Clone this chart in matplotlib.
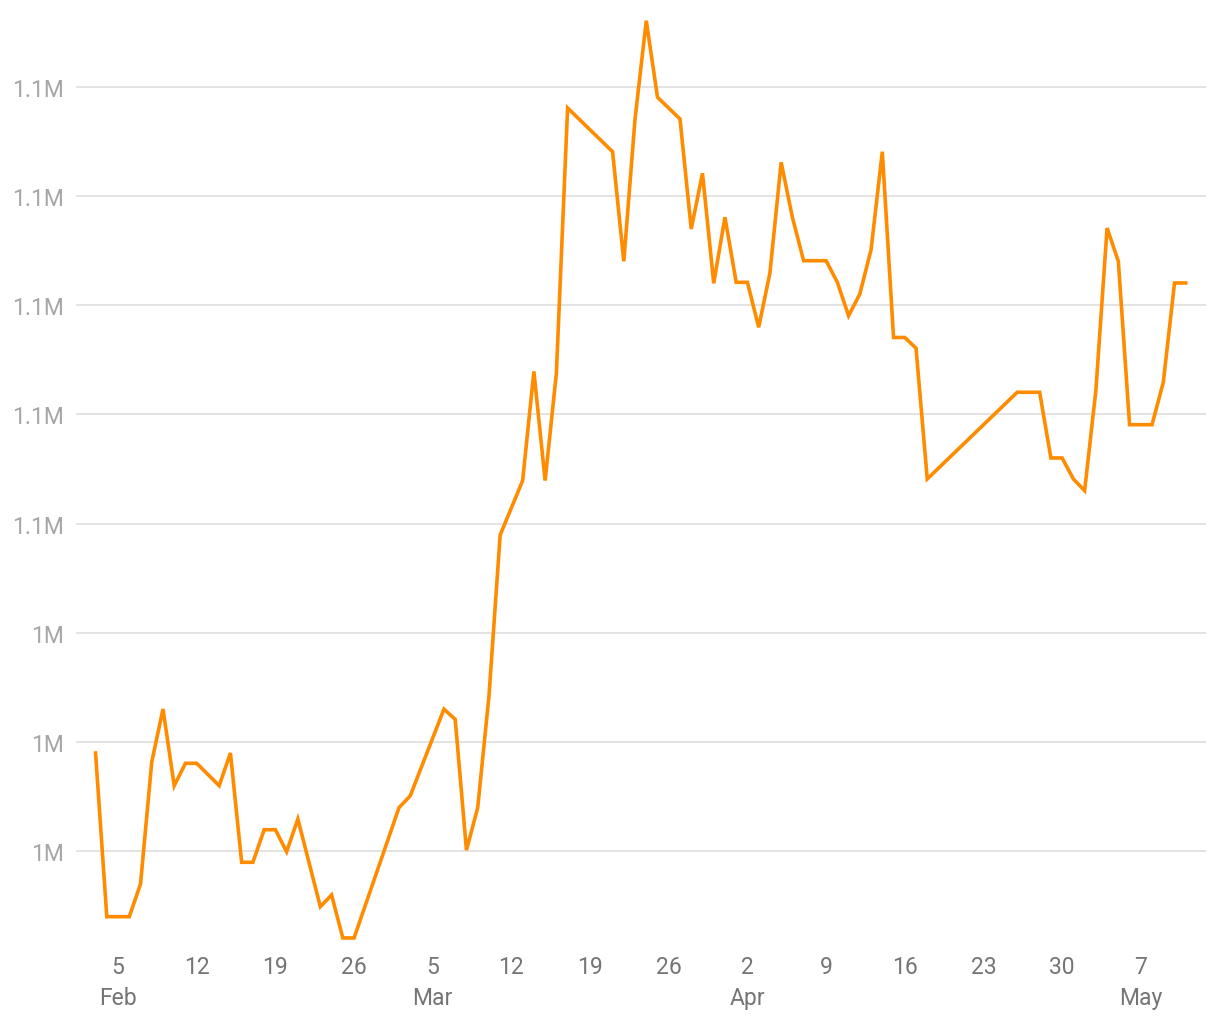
import matplotlib
matplotlib.use("Agg")
import matplotlib.pyplot as plt
import matplotlib.dates as mdates
import numpy as np
import datetime as dt

# ---- data ----
dates = [
    "2019-02-03", "2019-02-04", "2019-02-05", "2019-02-06", "2019-02-07", "2019-02-08",
    "2019-02-09", "2019-02-10", "2019-02-11", "2019-02-12", "2019-02-14", "2019-02-15",
    "2019-02-16", "2019-02-17", "2019-02-18", "2019-02-19", "2019-02-20", "2019-02-21",
    "2019-02-23", "2019-02-24", "2019-02-25", "2019-02-26", "2019-03-02", "2019-03-03",
    "2019-03-06", "2019-03-07", "2019-03-08", "2019-03-09", "2019-03-10", "2019-03-11",
    "2019-03-13", "2019-03-14", "2019-03-15", "2019-03-16", "2019-03-17", "2019-03-21",
    "2019-03-22", "2019-03-23", "2019-03-24", "2019-03-25", "2019-03-27", "2019-03-28",
    "2019-03-29", "2019-03-30", "2019-03-31", "2019-04-01", "2019-04-02", "2019-04-03",
    "2019-04-04", "2019-04-05", "2019-04-06", "2019-04-07", "2019-04-08", "2019-04-09",
    "2019-04-10", "2019-04-11", "2019-04-12", "2019-04-13", "2019-04-14", "2019-04-15",
    "2019-04-16", "2019-04-17", "2019-04-18", "2019-04-26", "2019-04-27", "2019-04-28",
    "2019-04-29", "2019-04-30", "2019-05-01", "2019-05-02", "2019-05-03", "2019-05-04",
    "2019-05-05", "2019-05-06", "2019-05-07", "2019-05-08", "2019-05-09", "2019-05-10",
    "2019-05-11",
]
values = [
    1017960, 987960, 987960, 987960, 993950, 1016310,
    1026020, 1011970, 1016070, 1016070, 1011970, 1017960,
    997930, 997930, 1003900, 1003900, 999870, 1005860,
    989790, 991940, 984060, 984060, 1007950, 1010120,
    1026000, 1024120, 1000150, 1007920, 1028310, 1057910,
    1067880, 1087890, 1067880, 1087520, 1136160, 1128150,
    1108060, 1134140, 1152150, 1138120, 1134140, 1113980,
    1124190, 1104030, 1116130, 1104210, 1104210, 1095970,
    1105920, 1126200, 1116130, 1108170, 1108170, 1108170,
    1104210, 1098090, 1102070, 1110190, 1128150, 1094100,
    1094100, 1092140, 1068170, 1084060, 1084060, 1084060,
    1072020, 1072020, 1068170, 1066030, 1084350, 1114170,
    1108060, 1078120, 1078120, 1078120, 1085890, 1104090,
    1104090,
]
y_ticks = [1000000, 1020000, 1040000, 1060000, 1080000, 1100000, 1120000, 1140000]
x_tick_dates = ["2019-02-05", "2019-02-12", "2019-02-19", "2019-02-26", "2019-03-05",
                "2019-03-12", "2019-03-19", "2019-03-26", "2019-04-02", "2019-04-09",
                "2019-04-16", "2019-04-23", "2019-04-30", "2019-05-07"]
x_tick_labels = ["5\nFeb", "12", "19", "26", "5\nMar", "12", "19", "26", "2\nApr",
                 "9", "16", "23", "30", "7\nMay"]

# ---- plot ----
plt.rcParams['font.family'] = ['Roboto', 'DejaVu Sans']

fig = plt.figure(figsize=(12.2, 10.2), dpi=100)
W, H = 1220, 1020
left_px, right_px, top_px, bottom_px = 76, 1206, 10, 948
ax = fig.add_axes([left_px / W, 1 - bottom_px / H, (right_px - left_px) / W, (bottom_px - top_px) / H])

d = [dt.datetime.strptime(s, "%Y-%m-%d") for s in dates]
ax.plot(d, values, color="#FF8C00", linewidth=2.6, solid_joinstyle="miter", zorder=3)

base = mdates.date2num(dt.datetime(2019, 2, 5))
ax.set_xlim(base - 3.74, base + 96.8)
ax.set_ylim(982408, 1154297)

ax.set_yticks(y_ticks)
def fmt(v):
    s = f"{v/1e6:.1f}"
    if s.endswith(".0"):
        s = s[:-2]
    return s + "M"
ax.set_yticklabels([fmt(v) for v in y_ticks])

ax.set_xticks([mdates.date2num(dt.datetime.strptime(s, "%Y-%m-%d")) for s in x_tick_dates])
ax.set_xticklabels(x_tick_labels, linespacing=1.42)

ax.grid(axis="y", color="#e3e3e3", linewidth=1.4, zorder=0)
ax.grid(axis="x", visible=False)
for sp in ax.spines.values():
    sp.set_visible(False)
ax.tick_params(axis="y", length=0, pad=8.5, labelsize=16.5, labelcolor="#a6a6a6")
ax.tick_params(axis="x", length=0, pad=6, labelsize=16.5, labelcolor="#757575")

fig.savefig("out.png", dpi=100, facecolor="white")
